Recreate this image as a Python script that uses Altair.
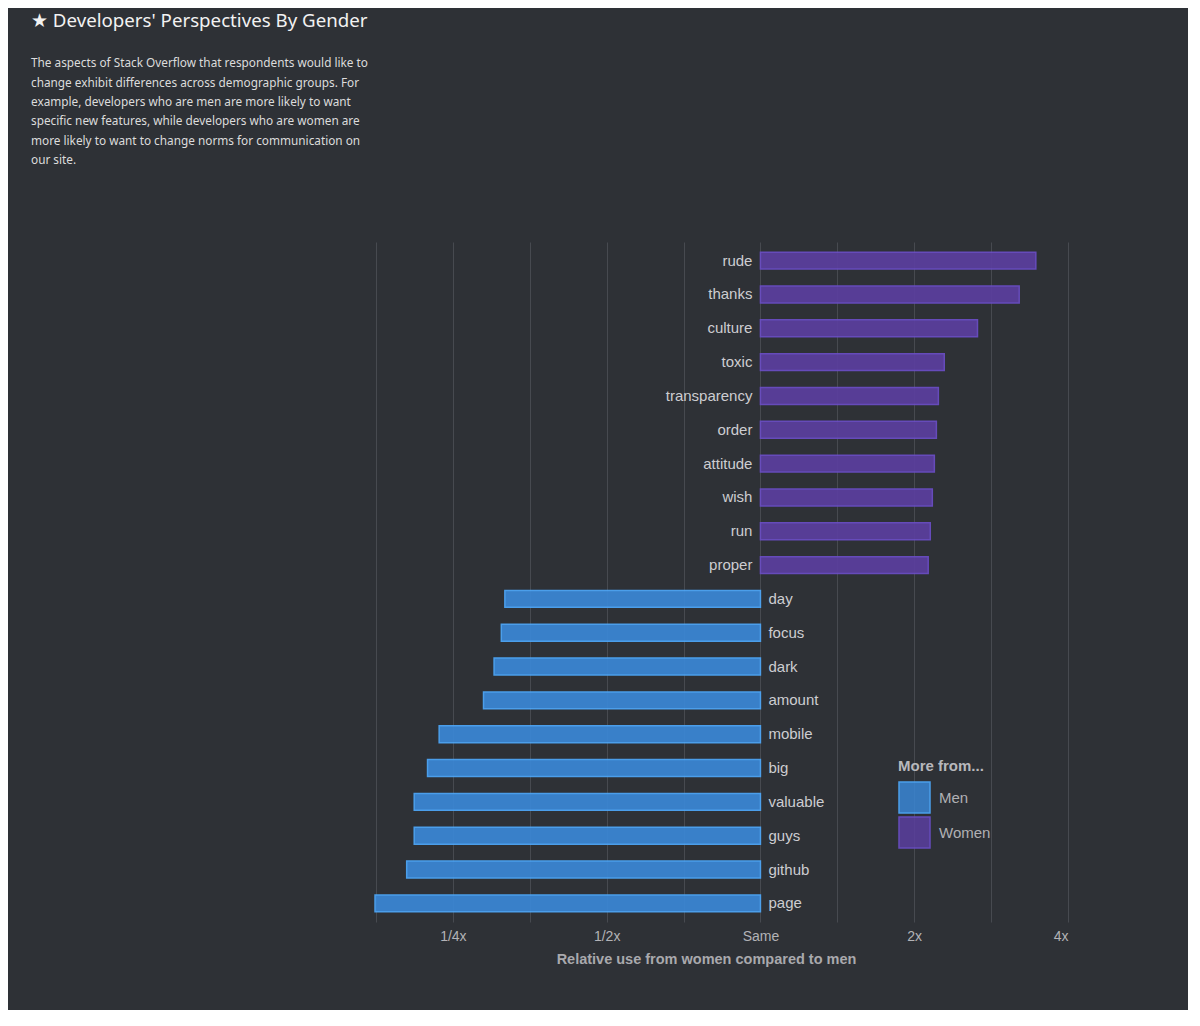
import altair as alt
import pandas as pd

words = ["rude", "thanks", "culture", "toxic", "transparency", "order", "attitude",
         "wish", "run", "proper", "day", "focus", "dark", "amount", "mobile", "big",
         "valuable", "guys", "github", "page"]
ratios = [3.46, 3.21, 2.66, 2.29, 2.23, 2.21, 2.19, 2.17, 2.15, 2.13,
          0.316, 0.311, 0.301, 0.287, 0.235, 0.223, 0.210, 0.210, 0.203, 0.176]
groups = ["Women"] * 10 + ["Men"] * 10

tick_values = [2 ** (k / 2) for k in range(-5, 5)]

df = pd.DataFrame({"word": words, "ratio": ratios, "group": groups, "one": 1.0})

BG = "#2e3136"
FONT = "Liberation Sans"

xscale = alt.Scale(type="log", base=2, domain=[2 ** -2.5, 4], zero=False, nice=False)
yenc = alt.Y("word:N", sort=words, axis=None,
             scale=alt.Scale(paddingInner=0.5, paddingOuter=0.3))

color = alt.Color("group:N", title="More from...",
                  scale=alt.Scale(domain=["Men", "Women"], range=["#3a87d6", "#5b3f9f"]),
                  legend=alt.Legend(orient="none", legendX=522, legendY=517,
                                    symbolType="square", symbolSize=961,
                                    symbolStrokeWidth=1.5, symbolOpacity=1,
                                    rowPadding=-10, labelOffset=8,
                                    titleFont=FONT, titleFontSize=15, titleFontWeight="bold",
                                    titleColor="#b8b8bc", titlePadding=7,
                                    labelFont=FONT, labelFontSize=15, labelColor="#b0b0b4"))
stroke = alt.Stroke("group:N", title="More from...",
                    scale=alt.Scale(domain=["Men", "Women"], range=["#4ea8fa", "#6b4ec6"]))

bars = alt.Chart(df).mark_bar(strokeWidth=1.5, opacity=0.92).encode(
    x=alt.X("ratio:Q", scale=xscale,
            axis=alt.Axis(values=tick_values, grid=True, gridColor="#474a50", gridWidth=1,
                          domain=False, ticks=False, labelPadding=7,
                          labelExpr="datum.value > 0.24 && datum.value < 0.26 ? '1/4x' : datum.value > 0.49 && datum.value < 0.51 ? '1/2x' : datum.value > 0.99 && datum.value < 1.01 ? 'Same' : datum.value > 1.99 && datum.value < 2.01 ? '2x' : datum.value > 3.99 && datum.value < 4.01 ? '4x' : ''",
                          labelFont=FONT, labelFontSize=14, labelColor="#b3b3b7",
                          title="Relative use from women compared to men",
                          titleFont=FONT, titleFontSize=14.5, titleFontWeight="bold",
                          titleColor="#a9a9ad", titleX=330, titleY=30, titleAnchor="middle")),
    x2="one:Q",
    y=yenc,
    color=color,
    stroke=stroke,
)

women_labels = alt.Chart(df).transform_filter(alt.datum.group == "Women").mark_text(
    align="right", baseline="middle", dx=-8, font=FONT, fontSize=15, color="#cdcdd1"
).encode(x=alt.X("one:Q", scale=xscale), y=yenc, text="word:N")

men_labels = alt.Chart(df).transform_filter(alt.datum.group == "Men").mark_text(
    align="left", baseline="middle", dx=8, font=FONT, fontSize=15, color="#cdcdd1"
).encode(x=alt.X("one:Q", scale=xscale), y=yenc, text="word:N")

subtitle = [
    "The aspects of Stack Overflow that respondents would like to",
    "change exhibit differences across demographic groups. For",
    "example, developers who are men are more likely to want",
    "specific new features, while developers who are women are",
    "more likely to want to change norms for communication on",
    "our site.",
]

chart = alt.layer(bars, women_labels, men_labels).properties(
    width=692, height=680,
    background=BG,
    autosize=alt.AutoSizeParams(type="none"),
    padding={"left": 368, "top": 234, "right": 120, "bottom": 88},
    title=alt.TitleParams(
        "★ Developers' Perspectives By Gender",
        subtitle=subtitle,
        anchor="start", frame="group", dx=-345, offset=75,
        font="Noto Sans", fontSize=18.7, fontWeight="normal", color="#f2f2f2",
        subtitleFont="Noto Sans", subtitleFontSize=11.8, subtitleColor="#dcdcdc",
        subtitleLineHeight=19.4, subtitlePadding=28,
    ),
).configure_view(stroke=None)

chart.save("out.html", embed_options={"renderer": "svg", "actions": False})
